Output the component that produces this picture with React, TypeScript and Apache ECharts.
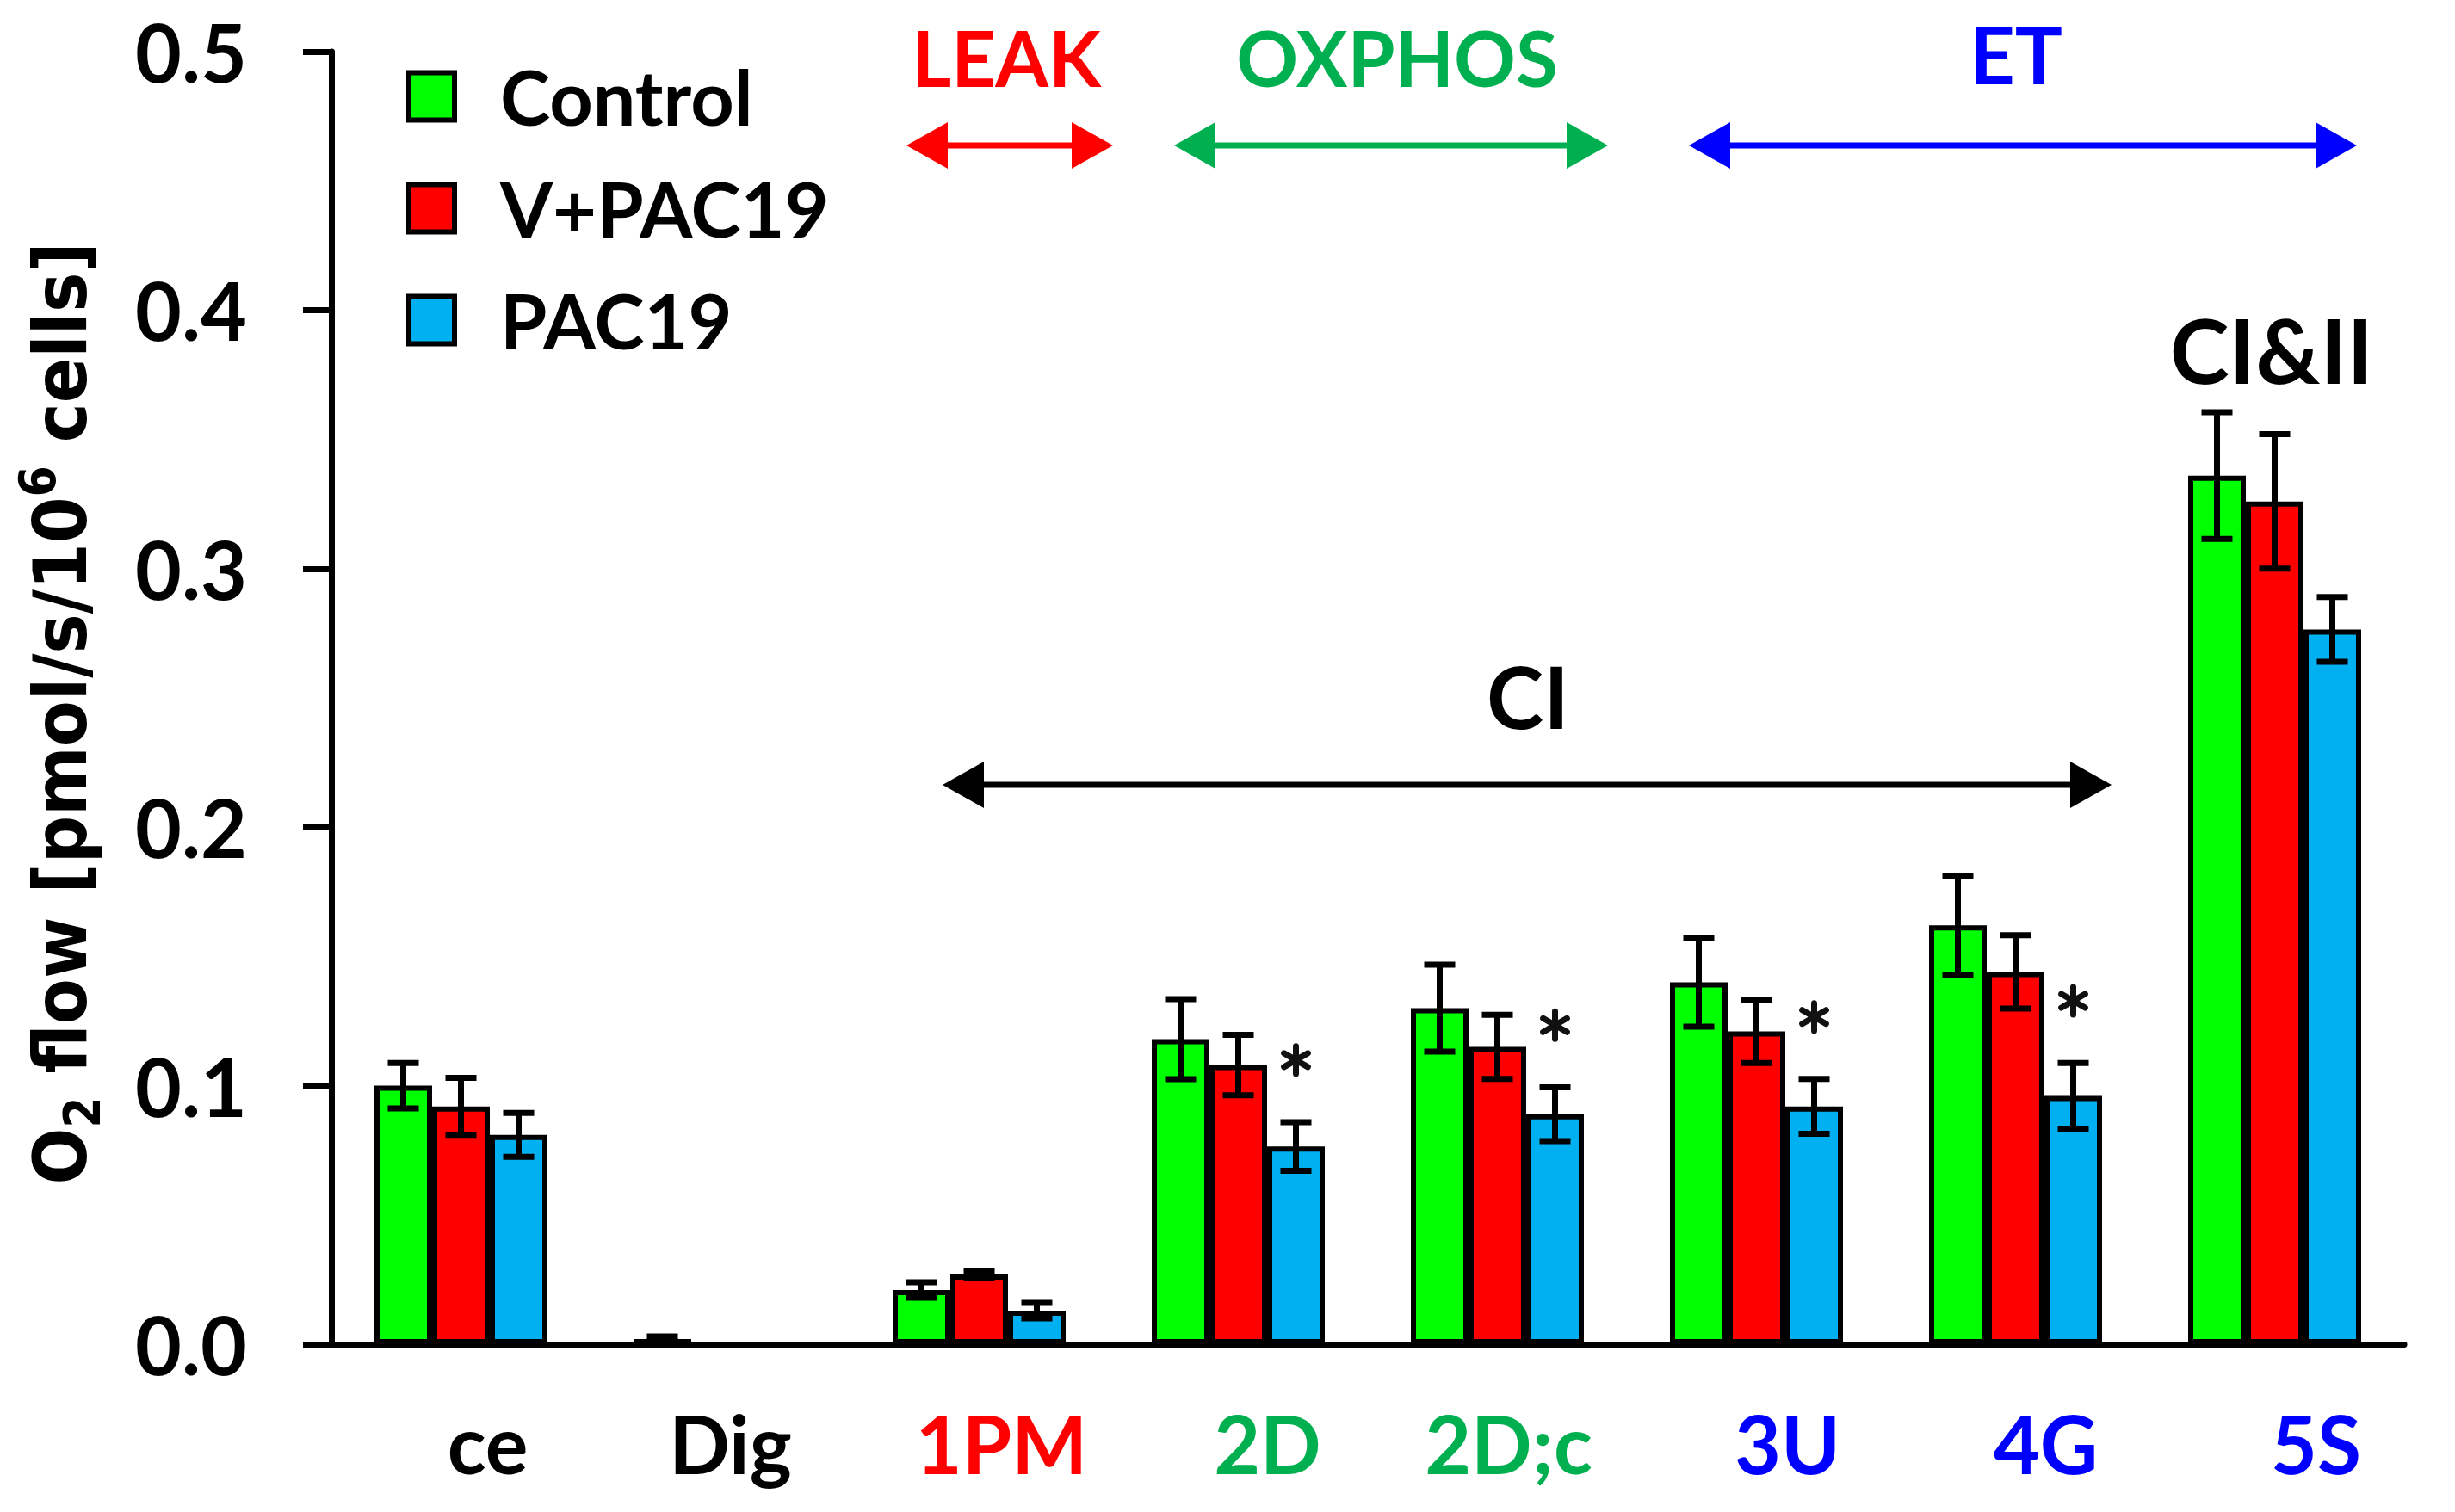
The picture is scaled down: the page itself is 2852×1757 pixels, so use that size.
import { useEffect, useRef } from 'react'
import * as echarts from 'echarts'

const categories = ['ce', 'Dig', '1PM', '2D', '2D;c', '3U', '4G', '5S']
const seriesNames = ['Control', 'V+PAC19', 'PAC19']

const controlMean = [0.1, 0.002, 0.021, 0.118, 0.13, 0.14, 0.162, 0.336]
const controlErr = [0.0088, 0.001, 0.003, 0.0155, 0.0168, 0.0172, 0.0192, 0.0245]
const vpacMean = [0.092, 0, 0.027, 0.108, 0.115, 0.121, 0.144, 0.326]
const vpacErr = [0.011, 0, 0.0015, 0.0117, 0.0124, 0.0122, 0.0142, 0.026]
const pacMean = [0.081, 0, 0.013, 0.0765, 0.089, 0.092, 0.096, 0.2765]
const pacErr = [0.0085, 0, 0.003, 0.0094, 0.0104, 0.0106, 0.0128, 0.0125]
// significance marks above the PAC19 bars
const pacStars = [0, 0, 0, 1, 1, 1, 1, 0]

const seriesColors = ['#00ff00', '#ff0000', '#00b0f0']
const labelColors = ['#000000', '#000000', '#ff0000', '#00b050', '#00b050', '#0000ff', '#0000ff', '#0000ff']
// labels sit a little right of the group centres in the original
const labelNudge = [31, 12, 26, 34, 13, 36, 35, 48]

const FONT = 'Lato, "Open Sans", sans-serif'
const BAR_W = 67

function seg(x1: number, y1: number, x2: number, y2: number, w = 7) {
  return { type: 'line', shape: { x1, y1, x2, y2 }, style: { stroke: '#000', lineWidth: w } }
}

// six-spoke asterisk
function star(cx: number, cy: number) {
  const r = 16
  const spokes = [90, 30, 150].map((deg) => {
    const a = (deg * Math.PI) / 180
    const dx = Math.cos(a) * r
    const dy = Math.sin(a) * r
    return { type: 'line', shape: { x1: cx - dx, y1: cy - dy, x2: cx + dx, y2: cy + dy }, style: { stroke: '#111', lineWidth: 7, lineCap: 'round' } }
  })
  return [...spokes, { type: 'circle', shape: { cx, cy, r: 7 }, style: { fill: '#111' } }]
}

function arrow(x1: number, x2: number, y: number, color: string) {
  const head = 48
  const half = 27
  return {
    type: 'group',
    children: [
      { type: 'line', shape: { x1: x1 + head - 6, y1: y, x2: x2 - head + 6, y2: y }, style: { stroke: color, lineWidth: 7 } },
      { type: 'polygon', shape: { points: [[x1, y], [x1 + head, y - half], [x1 + head, y + half]] }, style: { fill: color } },
      { type: 'polygon', shape: { points: [[x2, y], [x2 - head, y - half], [x2 - head, y + half]] }, style: { fill: color } },
    ],
  }
}

function label(text: string, x: number, y: number, size: number, color: string) {
  return {
    type: 'text',
    x,
    y,
    style: { text, fill: color, fontFamily: FONT, fontWeight: 'bold', fontSize: size, align: 'center', verticalAlign: 'middle' },
  }
}

function errorSeries(name: string, means: number[], errs: number[], offset: number, stars?: number[]) {
  return {
    type: 'custom',
    name: name + ' SD',
    data: means.map((m, i) => [i, m, errs[i], stars ? stars[i] : 0]),
    encode: { x: 0, y: 1 },
    z: 5,
    silent: true,
    renderItem: (_params: any, api: any) => {
      const i = api.value(0)
      const m = api.value(1)
      const e = api.value(2)
      const s = api.value(3)
      const x = api.coord([i, m])[0] + offset
      const children: any[] = []
      if (e > 0) {
        const top = api.coord([i, m + e])[1]
        const bot = api.coord([i, m - e])[1]
        children.push(seg(x, top, x, bot), seg(x - 18, top, x + 18, top), seg(x - 18, bot, x + 18, bot))
      }
      if (s) {
        const sy = api.coord([i, m + e + 0.024])[1]
        children.push(...star(x, sy))
      }
      return { type: 'group', children }
    },
  }
}

export default function App() {
  const chartRef = useRef<HTMLDivElement>(null)

  useEffect(() => {
    if (!chartRef.current) return
    document.body.style.margin = '0'
    const chart = echarts.init(chartRef.current, null, { renderer: 'svg' })

    const rich: any = {}
    categories.forEach((_c, i) => {
      rich['c' + i] = {
        color: labelColors[i],
        fontFamily: FONT,
        fontWeight: 'bold',
        fontSize: 93,
        padding: [0, 0, 0, labelNudge[i] * 2],
      }
    })

    const barBase = {
      type: 'bar',
      barWidth: BAR_W,
      barGap: '0%',
      itemStyle: { borderColor: '#000', borderWidth: 6 },
    }

    const nameFont = '"DejaVu Sans Condensed", "Open Sans", sans-serif'

    const option = {
      animation: false,
      backgroundColor: '#fff',
      grid: { left: 385, right: 59, top: 60, bottom: 195, containLabel: false },
      legend: {
        data: seriesNames,
        orient: 'vertical',
        left: 467,
        top: 62,
        icon: 'rect',
        itemWidth: 53,
        itemHeight: 55,
        itemGap: 40,
        selectedMode: false,
        itemStyle: { borderColor: '#000', borderWidth: 6 },
        textStyle: { fontFamily: FONT, fontWeight: 'bold', fontSize: 88, lineHeight: 90, color: '#000', padding: [0, 0, 0, 48] },
      },
      xAxis: {
        type: 'category',
        data: categories,
        axisTick: { show: false },
        axisLine: { lineStyle: { color: '#000', width: 7 } },
        axisLabel: {
          margin: 68,
          interval: 0,
          formatter: (v: string) => '{c' + categories.indexOf(v) + '|' + v + '}',
          rich,
        },
      },
      yAxis: {
        type: 'value',
        min: 0,
        max: 0.5,
        interval: 0.1,
        splitLine: { show: false },
        axisLine: { show: true, lineStyle: { color: '#000', width: 7 } },
        axisTick: { show: true, inside: false, length: 33, lineStyle: { color: '#000', width: 7 } },
        axisLabel: {
          margin: 98,
          color: '#000',
          fontFamily: FONT,
          fontWeight: 'bold',
          fontSize: 93,
          formatter: (v: number) => v.toFixed(1),
        },
      },
      graphic: [
        {
          type: 'text',
          x: 70,
          y: 829,
          rotation: Math.PI / 2,
          style: {
            text: '{a|O}{s|2}{a| flow [pmol/s/10}{p|6}{a| cells]}',
            align: 'center',
            verticalAlign: 'middle',
            rich: {
              a: { fontFamily: nameFont, fontWeight: 'bold', fontSize: 86, lineHeight: 110, fill: '#000' },
              s: { fontFamily: nameFont, fontWeight: 'bold', fontSize: 58, lineHeight: 44, verticalAlign: 'bottom', fill: '#000' },
              p: { fontFamily: nameFont, fontWeight: 'bold', fontSize: 58, lineHeight: 66, verticalAlign: 'top', fill: '#000' },
            },
          },
        },
        label('LEAK', 1169, 66, 89, '#ff0000'),
        label('OXPHOS', 1623, 66, 89, '#00b050'),
        label('ET', 2342, 62, 92, '#0000ff'),
        label('CI', 1775, 808, 100, '#000'),
        label('CI&II', 2639, 405, 104, '#000'),
        arrow(1053, 1293, 169, '#ff0000'),
        arrow(1364, 1868, 169, '#00b050'),
        arrow(1962, 2738, 169, '#0000ff'),
        arrow(1095, 2453, 912, '#000'),
      ],
      series: [
        { ...barBase, name: seriesNames[0], data: controlMean, itemStyle: { ...barBase.itemStyle, color: seriesColors[0] } },
        { ...barBase, name: seriesNames[1], data: vpacMean, itemStyle: { ...barBase.itemStyle, color: seriesColors[1] } },
        { ...barBase, name: seriesNames[2], data: pacMean, itemStyle: { ...barBase.itemStyle, color: seriesColors[2] } },
        errorSeries(seriesNames[0], controlMean, controlErr, -BAR_W),
        errorSeries(seriesNames[1], vpacMean, vpacErr, 0),
        errorSeries(seriesNames[2], pacMean, pacErr, BAR_W, pacStars),
      ],
    }

    chart.setOption(option as any)

    const resizeHandler = () => chart.resize()
    window.addEventListener('resize', resizeHandler)
    return () => {
      window.removeEventListener('resize', resizeHandler)
      chart.dispose()
    }
  }, [])

  return <div ref={chartRef} style={{ width: '100vw', height: '100vh' }} />
}
